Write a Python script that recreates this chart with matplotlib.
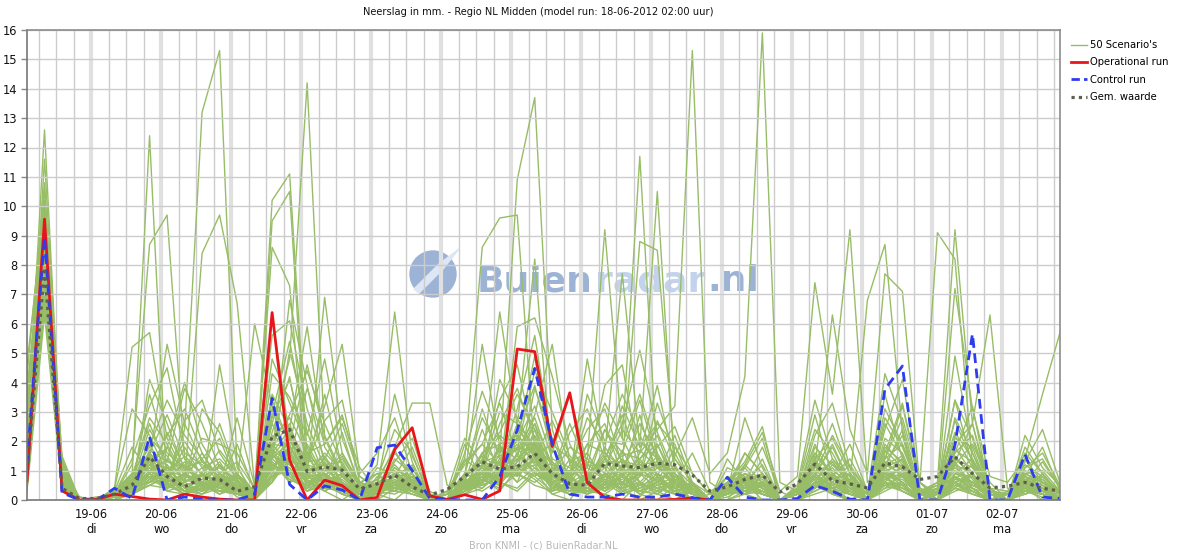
import matplotlib
matplotlib.use("Agg")
import matplotlib.pyplot as plt
from matplotlib.lines import Line2D
from matplotlib.patches import Circle, Polygon
from matplotlib.transforms import IdentityTransform
from datetime import datetime, timedelta

title = "Neerslag in mm. - Regio NL Midden (model run: 18-06-2012 02:00 uur)"
footer = "Bron KNMI - (c) BuienRadar.NL"
run_start = datetime(2012, 6, 18, 2)
n_steps = 60
step_hours = 6
times = [run_start + timedelta(hours=step_hours * i) for i in range(n_steps)]

day_labels = ["19-06\ndi", "20-06\nwo", "21-06\ndo", "22-06\nvr", "23-06\nza", "24-06\nzo",
              "25-06\nma", "26-06\ndi", "27-06\nwo", "28-06\ndo", "29-06\nvr", "30-06\nza",
              "01-07\nzo", "02-07\nma"]
day_ticks = [datetime(2012, 6, 19) + timedelta(days=d) for d in range(len(day_labels))]
y_ticks = list(range(0, 17))

operational = [0.65, 9.56, 0.31, 0, 0.02, 0.2, 0.12, 0.03, 0, 0.2,
               0.1, 0.03, 0, 0, 6.38, 1.36, 0, 0.68, 0.49, 0,
               0.09, 1.72, 2.46, 0.14, 0.02, 0.18, 0.02, 0.31, 5.14, 5.05,
               1.82, 3.65, 0.59, 0.09, 0, 0, 0, 0.02, 0.07, 0]

control = [1.25, 8.96, 0.25, 0, 0, 0.4, 0.05, 2.16, 0, 0.1,
           0.02, 0, 0, 0.2, 3.46, 0.53, 0, 0.48, 0.34, 0,
           1.78, 1.87, 1.0, 0.06, 0.02, 0, 0, 0.8, 2.38, 4.48,
           1.9, 0.2, 0.1, 0.1, 0.2, 0.1, 0.1, 0.2, 0.08, 0,
           0.77, 0.1, 0, 0, 0.05, 0.49, 0.3, 0.03, 0, 3.77,
           4.56, 0, 0, 1.87, 5.65, 0, 0, 1.55, 0.1, 0.05]

mean_value = [1.0, 7.9, 0.4, 0.05, 0.05, 0.2, 0.5, 1.47, 0.8, 0.45,
              0.75, 0.7, 0.3, 0.45, 2.16, 2.4, 0.97, 1.13, 1.02, 0.37,
              0.55, 0.85, 0.45, 0.17, 0.36, 0.8, 1.3, 1.05, 1.13, 1.59,
              0.9, 0.55, 0.5, 1.25, 1.16, 1.1, 1.25, 1.2, 0.85, 0.3,
              0.45, 0.7, 0.85, 0.27, 0.55, 1.22, 0.66, 0.55, 0.41, 1.26,
              1.13, 0.7, 0.8, 1.47, 0.9, 0.41, 0.47, 0.6, 0.4, 0.3]

s01 = [2.1,12.6,0.8,0,0,0.1,0.3,1.2,0.5,2.4, 13.2,15.3,1.1,0.2,0.6,1.8,0.9,0.3,0,0.4, 0.2,0,0.5,0,0,0.3,1.2,0.6,0.4,1.0, 0.2,0,0.8,1.5,0.4,0,0.3,0.6,0,0, 0,0.2,0.5,0,0,0.8,0.3,0,0,1.1, 0.6,0,0,0.4,0.2,0,0,0.3,0.1,0]
s02 = [1.5,11.6,1.2,0,0,0.3,0.8,12.4,0.3,0.2, 0.6,0.4,0.2,0,1.5,2.2,0.8,1.4,0.6,0.2, 0,0.9,0.4,0,0,0.2,0.6,1.8,0.9,0.5, 0.3,1.2,0.4,0.2,0,0.6,0.3,0,0.4,0, 0.2,0.6,0,0,0.3,1.4,0.5,0.2,0,0.6, 0.3,0,0.2,1.2,0.4,0,0,0.5,0.2,0]
s03 = [3.2,10.8,0.6,0,0,0,0.2,0.5,0.8,0.3, 0.2,0.6,0.1,0,2.6,4.8,14.2,2.1,0.8,0.2, 0.5,0.3,0.2,0,0,0.6,1.1,0.5,2.2,1.6, 0.4,0.2,0.6,1.1,0.3,0.1,0.8,0.2,0,0, 0.4,0.8,0.2,0,0,0.6,0.2,0,0.3,0.9, 1.4,0.2,0,0.6,0.8,0,0.2,0.4,0,0]
s04 = [0.8,8.4,0.5,0,0,0.2,1.2,8.7,9.7,1.4, 0.5,0.3,0.2,0,0.8,1.3,0.4,0.9,0.3,0, 0.2,0.6,1.1,0.2,0,0.4,0.9,1.2,0.6,2.0, 0.8,0.5,0.2,0.6,0.4,1.2,0.9,0.2,0,0, 0,0.3,0.6,0,0.2,0.9,0.4,0,0,0.5, 0.3,0,0.4,0.8,0.3,0,0,0.6,0.4,0.1]
s05 = [1.2,9.2,0.9,0,0,0,0.4,2.1,1.5,0.6, 8.4,9.7,6.7,0.5,1.6,0.8,0.3,0.6,0.2,0, 0.3,0.8,0.4,0,0.2,0.5,0.8,0.3,1.1,0.7, 0.2,0.4,0.9,0.3,0.6,0.2,0,0.5,0.3,0, 0.2,0.5,0.2,0,0,0.4,0.8,0.3,0,0.7, 0.5,0,0,0.9,0.6,0.2,0,0.3,0.2,0]
s06 = [2.6,9.8,0.7,0,0.1,0.2,0.6,1.4,0.5,0.2, 0.4,0.9,0.3,0.2,10.2,11.1,1.5,0.6,0.9,0.2, 0,0.4,0.2,0,0,0.8,1.5,0.6,0.3,0.9, 0.5,0.2,0.3,0.8,1.4,0.6,0.2,0,0.3,0, 0.6,0.2,0,0,0.4,0.7,0.2,0,0,1.3, 0.8,0.2,0,0.4,0.3,0,0.2,0.8,0.3,0]
s07 = [0.5,8.9,1.1,0.1,0,0,0.3,0.9,2.3,1.1, 0.6,0.2,0.4,0,9.5,10.5,0.9,1.2,0.4,0, 0.3,0.6,0.3,0.1,0,0.4,0.6,1.9,0.8,1.4, 0.3,0.6,0.2,0.4,0.9,0.3,0.6,1.1,0.2,0, 0,0.8,0.4,0,0.2,0.3,0.6,0.2,0,0.4, 0.9,0,0.2,0.6,0.2,0,0,0.4,0.6,0.2]
s08 = [1.8,7.6,0.4,0,0,0.1,0.5,1.1,0.6,0.9, 1.4,0.5,0.2,0.3,8.6,7.3,0.6,0.4,1.2,0.3, 0.2,0.9,0.5,0,0,0.2,0.4,0.9,2.6,1.8, 0.6,0.3,0.4,0.9,0.2,0.5,0.4,0.2,0,0.2, 0.3,0.2,0.9,0,0,0.2,0.4,0.6,0.2,0.8, 0.4,0.2,0,0.6,0.9,0.2,0,0.3,0.2,0]
s09 = [0.9,8.1,0.6,0,0,0.2,0.8,0.6,1.2,0.4, 0.3,0.8,0.5,0,1.8,2.6,0.8,6.9,2.1,0.5, 1.2,6.4,1.5,0.2,0,0.3,0.7,0.4,0.9,0.6, 1.1,0.4,0.2,0.5,0.8,0.3,0.2,0.6,0.4,0, 0.1,0.4,0.2,0,0,0.6,0.3,0.2,0,0.4, 0.5,0,0,0.8,0.4,0,0,0.2,0.5,0]
s10 = [2.2,9.4,0.8,0,0,0,0.2,0.5,0.4,0.8, 0.6,1.2,0.3,0,1.1,1.6,0.5,0.8,0.3,0.2, 0.4,0.3,0.6,0,0.3,1.4,8.6,9.6,9.7,1.5, 0.4,0.8,0.3,0.6,0.2,0.4,0.9,0.3,0,0, 0.3,0.6,0.2,0,0.2,0.4,0.9,0.3,0,0.6, 0.4,0.2,0,0.5,0.3,0,0.2,0.6,0.3,0]
s11 = [1.4,8.7,1.0,0,0,0.3,0.6,0.9,0.3,0.5, 0.2,0.4,0.8,0.2,1.4,0.9,1.6,0.5,0.2,0, 0.3,0.5,0.2,0,0,0.6,0.9,1.5,10.9,13.7, 2.4,0.6,0.3,0.2,0.6,0.9,0.4,0.2,0.3,0, 0.2,0.3,0.5,0,0,0.8,0.2,0,0.3,0.5, 0.6,0,0,0.4,0.9,0.2,0,0.2,0.4,0.1]
s12 = [3.8,9.0,0.5,0,0,0.1,0.4,1.6,0.9,0.3, 0.5,0.2,0.6,0.1,0.9,2.1,0.6,0.3,0.8,0.4, 0.2,0.6,0.8,0,0.2,0.4,1.2,6.4,2.5,8.2, 0.9,0.4,0.6,0.3,0.8,0.2,0.6,0.4,0.2,0, 0.4,0.2,0.3,0,0.3,0.5,0.4,0,0,0.8, 0.3,0,0.2,0.6,0.4,0,0,0.5,0.2,0]
s13 = [0.6,7.9,0.9,0,0,0,0.3,0.7,1.8,0.6, 0.3,0.8,0.2,0,1.2,0.8,0.4,1.1,0.5,0.2, 0.6,0.4,0.3,0,0,0.3,0.8,0.5,1.6,0.9, 0.6,0.8,1.4,9.2,2.1,11.7,1.2,0.5,0.3,0, 0.2,0.6,0.4,0,0,0.3,0.6,0.2,0,0.9, 0.6,0,0,0.3,0.5,0.2,0,0.4,0.3,0]
s14 = [2.4,8.5,0.7,0.1,0,0.2,0.5,1.3,0.4,0.9, 0.4,0.3,0.5,0,0.7,1.9,0.5,0.9,0.2,0, 0.4,1.1,0.6,0,0,0.5,0.6,1.1,0.9,2.4, 0.5,0.3,0.8,1.6,7.7,1.8,10.5,0.9,0.2,0, 0.3,0.5,0.2,0,0.2,0.6,0.3,0,0,0.5, 0.8,0.2,0,0.4,0.2,0,0,0.6,0.2,0]
s15 = [1.1,9.6,1.3,0,0,0,0.6,0.8,0.5,0.3, 0.9,0.6,0.2,0.1,1.5,1.2,0.6,0.4,0.9,0.3, 0.2,0.5,0.4,0.1,0,0.7,0.5,0.8,1.4,1.9, 0.8,0.6,0.3,0.5,1.2,8.8,8.5,1.4,0.6,0, 0.4,0.3,0.6,0,0,0.5,0.2,0.3,0,0.6, 0.4,0,0.2,0.7,0.6,0,0,0.3,0.4,0]
s16 = [3.0,10.2,0.6,0,0,0.1,0.2,0.6,0.9,0.5, 0.3,0.5,0.9,0.2,0.6,1.4,0.9,0.6,0.4,0.1, 0.5,0.8,0.3,0,0,0.2,0.6,0.9,2.1,1.2, 0.4,0.9,0.2,0.8,0.5,1.6,2.4,3.2,15.3,0.6, 0.2,0.5,0.3,0,0.2,0.4,0.8,0.2,0,0.3, 0.6,0,0,0.5,0.3,0,0.2,0.4,0.2,0]
s17 = [0.7,8.3,0.8,0,0,0.2,0.4,1.0,0.6,0.2, 0.5,0.9,0.4,0,1.3,0.7,0.4,1.5,0.6,0.2, 0.3,0.4,0.9,0,0,0.4,1.0,0.6,1.2,0.8, 0.3,0.5,0.8,0.4,1.1,0.6,0.3,1.5,2.8,0.9, 1.6,4.2,15.9,0.6,0.3,0.8,0.4,0,0,0.6, 0.3,0,0,0.8,0.4,0.2,0,0.5,0.3,0]
s18 = [1.9,7.4,0.5,0,0,0,0.8,2.6,1.1,0.4, 0.2,0.6,0.3,0,0.9,1.1,0.3,0.8,1.4,0.5, 0.2,0.3,0.6,0,0,0.5,0.3,0.7,0.9,1.4, 0.6,0.2,0.4,0.9,0.6,0.3,0.5,0.2,0.6,0.2, 0.5,1.2,2.3,0.3,0.8,7.4,3.6,9.2,0.6,1.2, 0.9,0,0,0.5,0.8,0,0,0.4,0.2,0]
s19 = [0.4,7.0,0.9,0,0,0.1,0.3,0.5,0.8,1.2, 0.6,0.3,0.2,0,1.6,0.6,0.8,0.4,0.3,0, 0.6,0.9,0.4,0,0,0.3,0.8,1.3,0.6,1.1, 0.4,0.6,0.3,0.6,0.4,0.9,1.2,0.4,0,0, 0.3,0.4,0.8,0,0.3,1.1,6.3,2.4,0.9,7.7, 7.1,0.4,0.2,0.6,0.3,0,0,0.5,0.3,0.1]
s20 = [2.8,8.8,0.6,0,0,0.3,0.9,0.7,0.4,0.6, 1.1,0.4,0.6,0.2,0.8,1.5,0.7,0.3,0.6,0.2, 0.3,0.2,0.5,0,0.2,0.6,0.4,1.0,1.8,0.9, 0.7,0.3,0.6,0.3,0.9,0.4,0.6,0.3,0.5,0, 0.2,0.6,0.3,0,0,0.9,1.8,0.6,6.8,8.7, 2.3,0,0,0.8,0.5,0.2,0,0.3,0.4,0]
s21 = [1.6,9.9,1.0,0,0,0,0.5,1.5,0.7,0.3, 0.4,0.7,0.3,0,1.1,0.9,0.5,0.7,0.2,0.3, 0.6,0.5,0.3,0,0,0.4,0.7,0.5,1.3,2.2, 0.9,0.5,0.3,0.7,0.4,0.6,0.2,0.8,0.3,0, 0.3,0.2,0.6,0,0.2,0.5,0.3,0.9,0.3,1.4, 3.2,0.6,9.1,8.2,1.2,0,0,0.6,0.3,0]
s22 = [0.9,8.0,0.7,0,0.1,0.2,0.3,0.8,0.5,0.9, 0.3,0.6,0.8,0.1,1.7,1.3,0.6,0.9,0.4,0, 0.4,0.7,0.3,0.1,0,0.6,0.5,0.8,1.0,1.6, 0.3,0.6,0.9,0.4,0.6,0.3,0.8,0.4,0.2,0, 0.5,0.3,0.2,0,0,0.6,0.4,0.2,0,0.9, 0.8,0.2,0.6,9.2,2.6,6.3,0.4,0.3,0.2,0]
s23 = [3.5,9.1,0.9,0,0,0,0.4,0.6,1.1,0.5, 0.6,0.3,0.4,0,0.8,1.0,0.4,0.6,0.9,0.2, 0.3,0.5,0.8,0,0,0.4,0.9,0.6,1.1,1.3, 0.6,0.4,0.2,0.9,0.3,0.5,0.7,0.3,0,0, 0.2,0.4,0.6,0,0.3,0.4,0.9,0.3,0,0.7, 1.1,0,0.3,7.2,3.1,0.8,0.6,1.4,3.6,5.7]
s24 = [1.3,7.7,0.6,0,0,0.1,0.6,0.9,0.4,0.7, 0.5,1.2,0.6,6.0,3.2,0.9,0.3,0.5,0.6,0, 0.2,0.6,0.4,0,0,0.3,0.6,1.1,0.8,1.5, 0.5,0.3,0.6,0.4,0.8,0.2,0.4,0.6,0.3,0, 0.3,0.6,0.2,0,0,0.8,0.5,0.2,0,0.6, 0.5,0,0,0.6,0.9,0,0.3,0.2,0.4,0]
s25 = [4.6,10.1,1.5,0,0,0.4,5.2,5.7,2.1,0.9, 0.6,0.4,0.3,0,2.8,4.1,1.6,0.9,0.5,0.3, 0.6,1.8,3.3,3.3,0.5,0.4,1.6,2.3,3.6,2.4, 1.1,0.6,1.9,2.6,0.8,1.4,2.2,0.6,0.3,0, 0.6,1.1,0.4,0,0.3,1.6,0.9,0.4,0,2.1, 1.6,0.2,0.5,2.3,1.4,0.3,0,0.8,0.5,0.2]
s26 = [0.3,6.3,0.4,0,0,0.2,1.4,3.2,4.5,1.6, 1.2,0.8,0.5,0.2,3.6,2.4,5.9,1.8,0.9,0.4, 0.2,0.9,0.6,0,0.3,2.1,1.2,3.4,4.6,1.9, 0.8,2.3,3.1,1.4,2.9,1.1,0.6,1.8,0.9,0.2, 0.4,0.6,1.8,0.3,0,0.9,2.2,1.1,0.3,1.4, 2.8,0.6,0.2,1.3,2.6,0.4,0.3,1.2,0.8,0.3]
s27 = [2.0,7.2,0.8,0,0,0,0.6,2.4,1.3,3.8, 2.6,1.1,0.6,0,4.3,3.5,2.2,4.8,1.6,0.6, 0.9,0.4,0.3,0,0,0.9,2.8,1.6,2.3,3.9, 1.6,3.6,1.2,0.8,1.6,3.4,1.3,0.9,0.4,0, 1.1,0.8,0.5,0,0.4,2.4,1.6,0.5,0,3.1, 1.9,0.4,0,2.8,1.6,0.2,0,0.6,1.3,0.4]
s28 = [1.0,8.6,1.3,0,0,0.1,0.3,4.1,2.6,1.0, 0.8,1.7,0.9,0.3,5.6,6.1,3.1,1.4,2.6,0.8, 0.4,1.6,0.9,0.2,0,0.5,1.4,2.2,1.7,4.4, 3.0,1.5,0.9,2.4,1.3,0.8,2.7,1.4,0.6,0, 0.3,1.6,0.9,0,0,1.2,0.8,1.9,0.3,1.1, 2.4,0.2,0.4,3.4,1.2,0.3,0.2,1.6,0.9,0.2]
s29 = [3.1,9.3,0.5,0,0,0.3,0.9,1.8,3.4,2.2, 1.4,2.1,0.6,0,1.9,2.9,4.4,2.6,1.2,0.3, 0.7,2.4,1.6,0,0,1.6,3.7,2.1,1.3,2.6, 1.2,0.9,2.8,1.9,3.6,2.2,1.1,0.6,1.6,0.3, 0.6,1.3,2.5,0,0.2,0.6,1.4,0.8,0,1.9, 1.2,0.3,0.6,1.6,2.2,0.4,0,0.9,0.6,0.3]
s30 = [0.6,6.8,0.9,0,0,0.2,0.5,1.2,1.8,4.0, 1.9,0.9,1.3,0.4,2.6,1.4,3.8,1.9,2.8,1.1, 0.3,0.8,1.8,0.2,0,0.6,1.1,3.0,2.6,1.4, 2.7,1.3,1.6,3.3,2.1,0.9,1.8,2.5,0.9,0.2, 0.8,0.6,1.2,0,0.3,1.9,0.7,0.4,0,2.6, 1.5,0,0.3,2.1,1.8,0.2,0,1.1,1.6,0.5]
s31 = [1.7,7.9,0.6,0,0,0,0.4,0.9,1.4,0.6, 3.1,2.3,0.8,0.2,1.4,5.1,2.6,1.1,0.6,0.2, 0.5,1.2,0.6,0,0.2,1.3,1.9,1.2,3.1,5.6, 1.8,0.6,1.3,1.1,2.4,1.6,3.9,1.1,0.5,0, 0.4,0.9,0.6,0,0.2,0.8,1.9,0.6,0.2,1.6, 3.3,0.6,0,1.8,0.9,0.2,0,0.7,0.3,0.2]
s32 = [2.3,8.2,1.1,0,0,0.2,0.7,1.6,0.9,1.5, 0.9,0.5,1.9,0.3,3.1,2.0,1.3,2.7,3.4,0.6, 0.4,0.6,0.4,0,0,0.8,0.9,1.7,2.0,3.2, 1.4,1.1,0.6,1.8,1.0,2.6,1.5,0.7,0.3,0, 0.2,0.5,0.9,0,0.2,1.3,0.6,1.2,0.3,0.8, 1.1,0.2,0.3,1.2,1.9,0.6,0,0.5,0.8,0.3]
s33 = [0.8,7.3,0.7,0,0,0.1,0.2,0.7,1.1,0.5, 0.7,1.3,0.4,0,2.2,1.8,0.9,1.6,1.0,0.2, 1.1,0.9,0.6,0,0,0.4,1.6,0.9,1.4,2.0, 0.7,0.9,1.6,0.6,1.4,0.8,1.9,0.5,0.2,0, 0.6,0.4,1.4,0,0,0.4,1.2,0.8,0,1.3, 0.8,0,0.2,0.9,1.4,0.3,0,0.8,0.6,0.2]
s34 = [2.7,9.5,0.8,0,0,0,0.5,0.6,0.7,1.3, 0.4,0.6,0.9,0.2,1.0,2.3,1.1,0.6,1.5,0.4, 0.3,1.4,0.9,0,0,0.5,0.8,1.3,1.9,1.3, 0.9,0.5,0.7,1.2,0.6,1.3,0.9,0.6,0.4,0, 0.3,0.8,0.4,0,0.3,1.0,0.6,0.3,0,1.1, 1.4,0.2,0,1.5,0.7,0,0.2,0.6,0.4,0.1]
s35 = [1.2,8.0,1.0,0,0,0.2,0.6,1.9,0.8,0.7, 1.6,0.7,0.3,0,1.3,0.6,1.9,0.8,0.7,0.2, 0.6,0.3,1.2,0,0,0.9,1.3,0.7,2.4,1.7, 0.5,1.4,0.9,0.5,1.7,0.6,1.2,0.9,0.3,0, 0.5,0.3,0.8,0,0,1.5,0.9,0.4,0.2,0.7, 0.9,0,0.4,1.1,0.6,0.2,0,1.0,0.7,0.2]
s36 = [0.5,6.6,0.5,0,0,0.1,0.9,1.0,0.6,1.8, 0.8,0.4,0.6,0.1,1.9,1.2,0.7,1.3,0.4,0, 0.8,0.6,0.3,0,0,0.3,0.5,1.8,1.1,0.8, 1.3,0.7,0.5,0.9,0.3,0.8,1.5,0.4,0.6,0, 0.2,1.2,0.6,0,0.2,0.7,1.3,0.5,0,1.0, 0.6,0.3,0,0.7,1.2,0,0.3,0.4,0.9,0.2]
s37 = [2.5,8.9,0.9,0,0,0,0.3,1.4,1.2,0.4, 0.5,0.9,0.5,0,0.6,1.6,0.5,1.1,0.8,0.3, 0.4,0.8,0.5,0,0,0.6,1.1,0.6,1.6,2.6, 0.6,0.8,1.1,0.7,0.9,1.4,0.6,1.2,0.2,0, 0.4,0.6,0.3,0,0.3,0.9,0.5,0.7,0,1.5, 1.0,0,0.2,1.3,0.5,0.3,0,0.6,0.3,0]
s38 = [1.4,7.5,0.6,0,0,0.3,0.4,0.8,0.5,0.9, 0.6,0.5,0.8,0.2,1.7,0.9,1.2,0.5,0.6,0.1, 0.2,0.5,0.7,0,0,0.7,0.6,1.4,0.9,1.2, 1.0,0.4,0.6,1.4,0.5,0.9,0.7,0.3,0.5,0, 0.3,0.4,0.6,0,0,0.6,0.8,0.3,0,0.8, 0.7,0.2,0,0.9,0.8,0,0,0.5,0.4,0.1]
s39 = [3.3,9.7,1.2,0,0,0.1,0.7,1.1,0.4,0.6, 0.9,0.6,0.4,0,1.2,1.4,0.8,0.9,0.3,0.2, 0.5,0.4,0.6,0.1,0,0.4,0.9,0.7,1.3,1.8, 0.8,0.6,0.4,0.8,1.0,0.5,1.1,0.6,0.2,0, 0.6,0.3,0.5,0,0.2,1.2,0.4,0.6,0,0.9, 0.5,0,0.3,1.0,0.6,0.2,0,0.7,0.5,0]
s40 = [0.9,7.1,0.8,0,0,0,0.5,1.3,0.7,0.3, 0.4,0.8,0.2,0,1.1,1.7,0.6,0.7,0.5,0, 0.3,0.7,0.4,0,0,0.5,0.7,1.0,1.5,1.1, 0.6,0.3,0.8,0.6,0.7,1.1,0.5,0.8,0.3,0, 0.2,0.7,0.4,0,0,0.5,1.1,0.4,0,0.6, 1.2,0,0,0.8,0.4,0,0.2,0.3,0.6,0]
s41 = [4.2,10.6,0.6,0,0,0.4,3.1,2.2,0.9,0.5, 0.3,4.6,1.2,0,1.5,6.8,3.9,1.2,0.5,0.2, 0.4,0.6,0.3,0,0,0.8,5.3,1.8,0.9,3.8, 2.1,0.7,4.8,1.6,0.8,2.9,0.7,0.4,0.2,0, 0.3,2.8,1.1,0,0.5,3.4,1.4,0.6,0.2,4.3, 2.6,0.3,0.2,4.9,1.6,0.4,0,2.2,1.1,0.5]
s42 = [1.9,8.4,1.4,0,0,0.2,0.4,3.6,1.6,1.1, 0.6,0.4,2.8,0.5,6.3,2.1,1.4,3.2,5.3,0.9, 1.6,2.8,0.9,0,0,1.9,0.6,4.1,2.8,1.6, 0.9,2.6,1.1,3.9,4.6,1.2,0.8,2.2,0.6,0, 1.4,0.6,0.3,0,0.2,2.2,3.3,1.1,0,2.4, 4.1,0.6,0,1.6,3.2,0.2,0,1.3,2.4,0.6]
s43 = [0.4,6.9,0.7,0,0,0,0.6,1.4,5.3,2.6, 1.3,0.8,0.4,0.2,2.9,5.4,2.3,0.8,1.6,0.5, 0.3,1.3,2.1,0.3,0,0.6,2.4,0.9,5.9,6.2, 4.2,1.9,0.8,1.4,2.6,5.1,2.3,0.9,0.4,0, 0.5,1.6,0.9,0,0.3,1.1,2.6,0.9,0,3.6, 1.4,0.2,0.4,2.7,1.3,0.3,0.2,0.9,0.6,0.3]
s44 = [2.9,9.0,0.9,0,0,0.3,1.8,0.9,0.6,2.7, 3.4,1.6,0.7,0,3.4,1.9,4.6,2.2,0.9,0.3, 0.5,3.6,1.3,0,0.3,1.2,1.9,3.3,1.5,2.9, 5.3,1.2,2.4,3.1,1.2,0.9,3.3,1.6,0.5,0, 0.8,0.4,0.6,0,0.4,2.9,0.8,1.4,0.3,1.2, 2.2,0,0.3,3.4,2.1,0.2,0,1.8,0.9,0.2]
s45 = [1.1,7.8,0.5,0,0,0.2,0.8,2.8,1.9,0.8, 2.1,1.9,1.6,0.4,4.8,3.3,1.8,0.6,2.3,0.4, 0.9,1.0,0.5,0,0,0.9,3.1,1.4,2.0,4.9, 1.3,0.6,3.6,2.0,1.9,3.6,1.6,0.6,0.3,0, 0.2,1.1,2.1,0,0,1.8,1.2,0.6,0,2.8, 1.8,0.3,0,2.2,1.1,0.4,0,1.1,1.4,0.4]
s46 = [3.6,9.8,1.1,0,0,0.1,0.5,1.6,2.9,1.4, 0.9,2.6,0.9,0.1,2.3,4.2,1.1,3.6,1.1,0.6, 0.2,0.9,1.1,0,0,1.4,0.9,2.6,3.8,2.1, 0.9,1.8,1.4,0.9,3.2,1.8,2.6,1.9,0.4,0, 0.6,0.9,0.4,0,0.2,1.4,2.1,0.9,0.2,1.8, 1.3,0.2,0.2,1.9,2.6,0.2,0,0.8,1.8,0.3]
s47 = [0.7,7.0,0.6,0,0,0,0.3,0.9,2.2,3.1, 1.6,0.6,0.5,0,2.1,2.8,1.6,1.9,2.9,0.8, 0.4,0.6,0.8,0,0,0.7,1.6,1.9,2.2,1.5, 1.9,1.4,0.6,2.4,1.6,1.4,1.9,0.7,0.3,0, 0.4,0.6,0.9,0,0.4,1.6,0.9,0.4,0,1.4, 1.9,0.3,0.5,1.4,0.9,0.2,0,1.4,0.6,0.2]
s48 = [2.2,8.6,0.8,0,0,0.3,0.6,1.2,0.9,2.0, 1.1,1.4,0.8,0.3,1.6,2.4,1.3,1.4,0.9,0.4, 0.7,1.7,0.6,0,0.2,0.9,1.3,1.5,1.7,2.8, 1.1,0.9,1.9,1.6,1.1,2.0,1.4,0.8,0.4,0, 0.3,0.9,0.7,0,0.2,1.3,0.7,0.9,0,1.7, 1.1,0.2,0,1.7,1.3,0.3,0.2,0.9,1.0,0.3]
s49 = [1.5,8.1,0.7,0,0,0.1,0.4,1.7,1.3,1.1, 1.3,0.9,0.6,0.2,1.9,1.8,1.0,1.2,1.3,0.3, 0.5,1.1,0.7,0,0,0.6,1.0,1.2,2.1,1.9, 1.2,0.8,1.2,1.1,1.5,1.7,1.1,0.9,0.3,0, 0.5,0.7,0.5,0,0.3,1.1,1.0,0.6,0,1.2, 1.5,0,0.2,1.4,1.1,0.2,0,0.7,0.8,0.2]
s50 = [2.0,8.3,1.0,0,0,0.2,0.7,1.5,1.0,0.8, 0.8,1.1,0.7,0.1,1.4,2.0,1.2,1.0,1.1,0.3, 0.4,0.8,0.9,0,0,0.8,1.2,1.3,1.8,1.6, 1.0,1.0,0.9,1.3,1.3,1.2,1.3,0.7,0.4,0, 0.4,0.5,0.6,0,0.2,0.9,1.3,0.5,0,1.0, 1.2,0.2,0,1.2,0.9,0.2,0,0.6,0.7,0.2]

scenarios = [s01, s02, s03, s04, s05, s06, s07, s08, s09, s10,
             s11, s12, s13, s14, s15, s16, s17, s18, s19, s20,
             s21, s22, s23, s24, s25, s26, s27, s28, s29, s30,
             s31, s32, s33, s34, s35, s36, s37, s38, s39, s40,
             s41, s42, s43, s44, s45, s46, s47, s48, s49, s50]

GREEN = "#97bd66"
RED = "#e8151b"
BLUE = "#2d3cf0"
MEAN = "#5e5e4e"

W, H = 1180, 550
fig = plt.figure(figsize=(W / 100, H / 100), dpi=100)
ax = fig.add_axes([27 / W, 50 / H, 1033 / W, 470 / H])
ax.set_facecolor("white")

ax.set_ylim(0, 16)
ax.set_xlim(times[0], times[-1])
ax.set_yticks(y_ticks)
ax.set_yticklabels([str(v) for v in y_ticks], fontsize=8.3, color="#111111")
ax.yaxis.grid(True, color="#cccccc", lw=1, zorder=0.5)
ax.set_axisbelow(False)

t = times[0].replace(hour=0)
while t <= times[-1]:
    if t >= times[0]:
        if t.hour == 0:
            ax.axvline(t, color="#e0e0e0", lw=3.0, zorder=0.5)
        else:
            ax.axvline(t, color="#cccccc", lw=1.0, zorder=0.5)
    t += timedelta(hours=6)

ax.set_xticks(day_ticks)
ax.set_xticklabels(day_labels, fontsize=8.3, color="#111111", linespacing=1.15)
ax.tick_params(axis="x", length=0, pad=6)
ax.tick_params(axis="y", length=4, color="#888888", pad=3, width=1)
for s in ax.spines.values():
    s.set_color("#8c8c8c")
    s.set_linewidth(1.2)
    s.set_zorder(6)
ax.spines["left"].set_color("#777777")
ax.spines["bottom"].set_color("#777777")

# watermark drawn in display pixels, beneath the grid
ident = IdentityTransform()
wm_col = "#9db3d6"
wm_light = "#c3d3ec"
def px(x, y):
    return (x, H - y)
cx, cy = 433, 274
ax.add_patch(Circle(px(cx, cy), 23, transform=ident, color=wm_col, zorder=0.1, clip_on=False))
ax.add_patch(Polygon([px(cx - 19, cy + 15), px(cx - 14, cy + 19), px(cx + 10, cy - 5),
                      px(cx + 26, cy - 25), px(cx + 6, cy - 10)],
                     closed=True, transform=ident, color="#dde6f4", zorder=0.2, clip_on=False))
fig.canvas.draw()
renderer = fig.canvas.get_renderer()
xpos = 477
parts = [("Buien", wm_col), ("radar", wm_light), (".nl", wm_col)]
for txt, col in parts:
    tt = ax.text(xpos, H - 291, txt, fontsize=26, fontweight="bold", transform=ident,
                 color=col, family="DejaVu Sans", ha="left", va="baseline", zorder=0.1)
    bb = tt.get_window_extent(renderer=renderer)
    xpos += bb.width + 2

for s in scenarios:
    ax.plot(times, s, color=GREEN, lw=1.0, zorder=2)
ax.plot(times[:len(operational)], operational, color=RED, lw=2.0, zorder=3)
ax.plot(times, control, color=BLUE, lw=2.0, ls=(0, (3.5, 2)), zorder=4)
ax.plot(times, mean_value, color=MEAN, lw=2.3, ls=(0, (1, 1.3)), zorder=5)

fig.text(538 / W, 1 - 12 / H, title, ha="center", va="center", fontsize=7.15, color="#111111")
fig.text(543 / W, 1 - 545 / H, footer, ha="center", va="center", fontsize=7, color="#b8b8b8")

handles = [Line2D([], [], color=GREEN, lw=1.0),
           Line2D([], [], color=RED, lw=2.0),
           Line2D([], [], color=BLUE, lw=2.0, ls=(0, (3, 1.5))),
           Line2D([], [], color=MEAN, lw=2.3, ls=(0, (1, 1.3)))]
labels = ["50 Scenario's", "Operational run", "Control run", "Gem. waarde"]
fig.legend(handles, labels, loc="upper left", bbox_to_anchor=(1071 / W, 1 - 40 / H),
           frameon=False, fontsize=7.2, handlelength=1.55, handletextpad=0.35,
           labelspacing=0.74, borderaxespad=0, borderpad=0)

fig.savefig("out.png", dpi=100, facecolor="white")
